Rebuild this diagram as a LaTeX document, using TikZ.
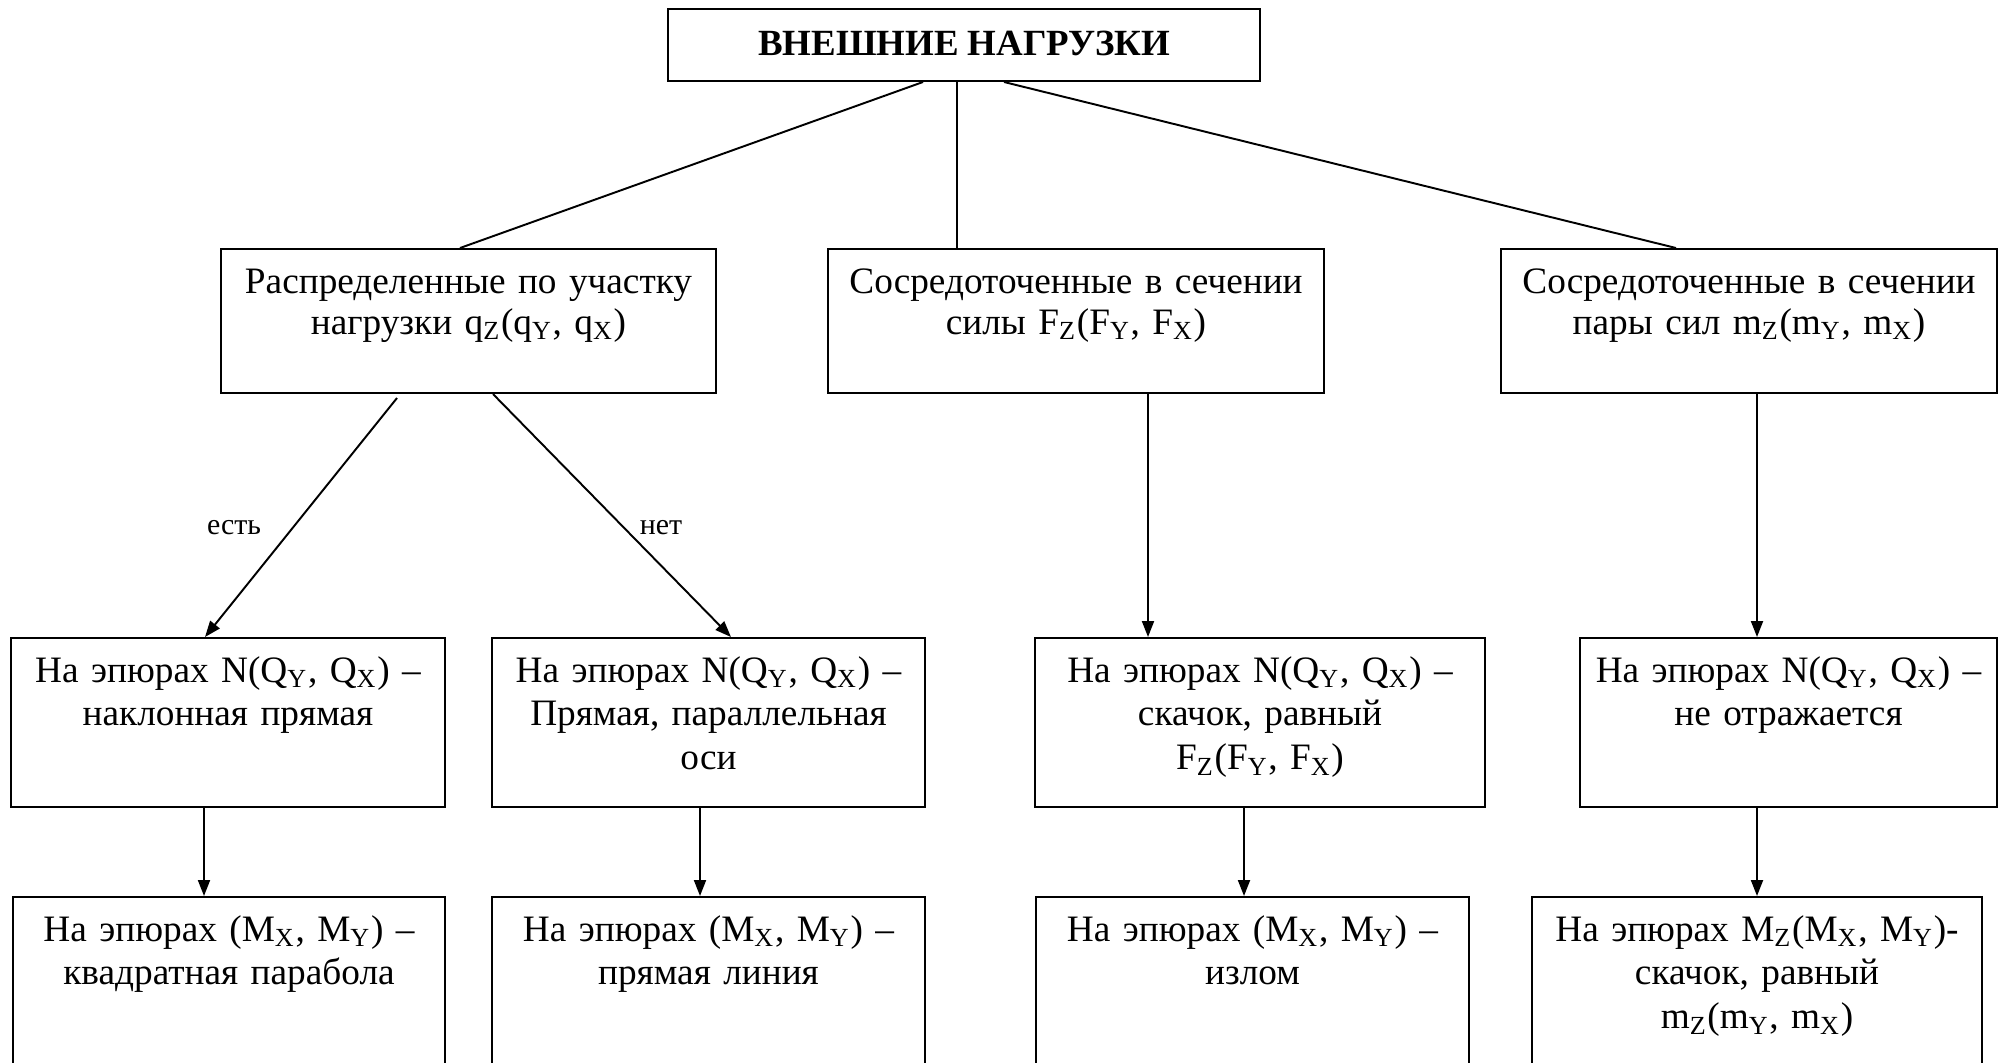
\documentclass[tikz,border=0pt]{standalone}
\usepackage{fontspec}
\setmainfont{Liberation Serif}
\usetikzlibrary{arrows.meta,calc}

\begin{document}
\begin{tikzpicture}[x=0.01cm, y=-0.01cm,
  blk/.style={draw, line width=0.55pt, inner sep=0pt},
  txt/.style={anchor=base, align=center, inner sep=0pt, text width=5.2cm, font={\fontsize{10.6}{12.5}\selectfont}},
  txtwide/.style={txt, font={\fontsize{10.6}{11.7}\selectfont}},
  lbl/.style={anchor=base, inner sep=0pt, font={\fontsize{8.5}{10}\selectfont}},
  link/.style={line width=0.55pt},
  arr/.style={line width=0.55pt, -{Triangle[length=0.16cm,width=0.12cm]}}]
\useasboundingbox (0,0) rectangle (2000,1062);
\clip (0,0) rectangle (2000,1062);

% Head box
\node[blk, minimum width=5.92cm, minimum height=0.72cm] (T) at (964,45) {};
\node[anchor=base, inner sep=0pt, font={\fontsize{10.5}{12}\selectfont\bfseries}] (Ttx) at (964,55) {ВНЕШНИЕ НАГРУЗКИ};

% Kinds of loads
\node[blk, minimum width=4.95cm, minimum height=1.44cm] (A) at (468.5,321) {};
\node[blk, minimum width=4.96cm, minimum height=1.44cm] (C) at (1076,321) {};
\node[blk, minimum width=4.96cm, minimum height=1.44cm] (D) at (1749,321) {};
\node[txtwide] (Atx) at ($(A.north)+(0,45)$) {Распределенные по участку\\нагрузки q\textsubscript{Z}(q\textsubscript{Y}, q\textsubscript{X})};
\node[txtwide] (Ctx) at ($(C.north)+(0,45)$) {Сосредоточенные в сечении\\силы F\textsubscript{Z}(F\textsubscript{Y}, F\textsubscript{X})};
\node[txtwide] (Dtx) at ($(D.north)+(0,45)$) {Сосредоточенные в сечении\\пары сил m\textsubscript{Z}(m\textsubscript{Y}, m\textsubscript{X})};

% Diagrams N(Q)
\node[blk, minimum width=4.34cm, minimum height=1.69cm] (E) at (228,722.5) {};
\node[blk, minimum width=4.33cm, minimum height=1.69cm] (F) at (708.5,722.5) {};
\node[blk, minimum width=4.50cm, minimum height=1.69cm] (I) at (1260,722.5) {};
\node[blk, minimum width=4.17cm, minimum height=1.69cm] (J) at (1788.5,722.5) {};
\node[txt] (Etx) at ($(E.north)+(0,45)$) {На эпюрах N(Q\textsubscript{Y}, Q\textsubscript{X}) –\\наклонная прямая};
\node[txt] (Ftx) at ($(F.north)+(0,45)$) {На эпюрах N(Q\textsubscript{Y}, Q\textsubscript{X}) –\\Прямая, параллельная\\оси};
\node[txt] (Itx) at ($(I.north)+(0,45)$) {На эпюрах N(Q\textsubscript{Y}, Q\textsubscript{X}) –\\скачок, равный\\F\textsubscript{Z}(F\textsubscript{Y}, F\textsubscript{X})};
\node[txt] (Jtx) at ($(J.north)+(0,45)$) {На эпюрах N(Q\textsubscript{Y}, Q\textsubscript{X}) –\\не отражается};

% Diagrams M
\node[blk, minimum width=4.32cm, minimum height=1.69cm] (G) at (229,981.5) {};
\node[blk, minimum width=4.33cm, minimum height=1.69cm] (H) at (708.5,981.5) {};
\node[blk, minimum width=4.33cm, minimum height=1.69cm] (K) at (1252.5,981.5) {};
\node[blk, minimum width=4.49cm, minimum height=1.69cm] (L) at (1757,981.5) {};
\node[txt] (Gtx) at ($(G.north)+(0,45)$) {На эпюрах (M\textsubscript{X}, M\textsubscript{Y}) –\\квадратная парабола};
\node[txt] (Htx) at ($(H.north)+(0,45)$) {На эпюрах (M\textsubscript{X}, M\textsubscript{Y}) –\\прямая линия};
\node[txt] (Ktx) at ($(K.north)+(0,45)$) {На эпюрах (M\textsubscript{X}, M\textsubscript{Y}) –\\излом};
\node[txt] (Ltx) at ($(L.north)+(0,45)$) {На эпюрах M\textsubscript{Z}(M\textsubscript{X}, M\textsubscript{Y})-\\скачок, равный\\m\textsubscript{Z}(m\textsubscript{Y}, m\textsubscript{X})};

% Links from the head box
\draw[link] ($(T.south)+(-41,0)$) -- ($(A.north)+(-8.5,0)$);
\coordinate (tc) at ($(T.south)+(-7,0)$);
\draw[link] (tc) -- (tc |- C.north);
\draw[link] ($(T.south)+(40,0)$) -- ($(D.north)+(-73,0)$);

% Branches of distributed load
\draw[arr] ($(A.south)+(-71.5,4)$) -- ($(E.north)+(-23,0)$);
\draw[arr] ($(A.south)+(24.5,0)$) -- ($(F.north)+(22.5,0)$);
\node[lbl] (est) at (234,534) {есть};
\node[lbl] (net) at (661,534) {нет};

% Vertical arrows
\coordinate (ci) at ($(C.south)+(72,0)$);
\draw[arr] (ci) -- (ci |- I.north);
\coordinate (dj) at ($(D.south)+(8,0)$);
\draw[arr] (dj) -- (dj |- J.north);
\coordinate (eg) at ($(E.south)+(-24,0)$);
\draw[arr] (eg) -- (eg |- G.north);
\coordinate (fh) at ($(F.south)+(-8.5,0)$);
\draw[arr] (fh) -- (fh |- H.north);
\coordinate (ik) at ($(I.south)+(-16,0)$);
\draw[arr] (ik) -- (ik |- K.north);
\draw[arr] (J.south -| L.north) -- (L.north);
\end{tikzpicture}
\end{document}
